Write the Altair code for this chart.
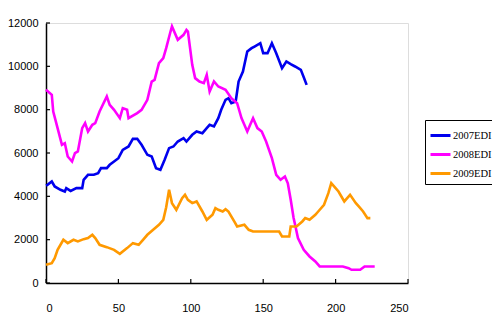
import altair as alt
import pandas as pd

# 2007 EDI
x2007 = [0, 1, 4, 6, 10, 13, 14, 17, 21, 25,
         26, 29, 33, 36, 38, 42, 44, 47, 50, 53,
         57, 60, 63, 66, 70, 73, 76, 79, 82, 85,
         88, 91, 95, 97, 101, 104, 108, 111, 113, 116,
         119, 121, 124, 126, 128, 131, 133, 136, 139, 142,
         144, 148, 150, 153, 156, 159, 163, 166, 169, 172,
         176, 178, 180]
y2007 = [4500, 4530, 4685, 4455, 4300, 4224, 4378, 4250, 4378, 4378,
         4762, 4993, 4993, 5070, 5300, 5300, 5455, 5608, 5762, 6147,
         6300, 6654, 6654, 6377, 5916, 5838, 5300, 5224, 5700, 6224,
         6300, 6530, 6686, 6530, 6839, 6991, 6915, 7148, 7302, 7225,
         7609, 7993, 8454, 8531, 8300, 8377, 9300, 9762, 10683, 10837,
         10914, 11070, 10608, 10608, 11070, 10608, 9916, 10224, 10100, 9993,
         9838, 9500, 9146]

# 2008 EDI
x2008 = [0, 4, 5, 8, 11, 13, 15, 18, 20, 22,
         25, 27, 29, 32, 34, 37, 42, 44, 47, 51,
         53, 56, 57, 63, 66, 70, 73, 75, 78, 81,
         83, 86, 87, 91, 95, 97, 98, 101, 103, 106,
         109, 111, 113, 116, 119, 124, 128, 132, 135, 139,
         141, 143, 146, 149, 152, 156, 159, 162, 165, 167,
         169, 171, 172, 174, 178, 182, 186, 189, 205, 209,
         211, 217, 220, 227]
y2008 = [8915, 8685, 7914, 7148, 6377, 6454, 5838, 5607, 5994, 6070,
         7148, 7378, 6991, 7302, 7378, 7914, 8607, 8223, 7993, 7609,
         8071, 7993, 7609, 7840, 7993, 8454, 9300, 9377, 10147, 10378,
         10840, 11606, 11840, 11223, 11455, 11684, 11610, 10069, 9455, 9300,
         9224, 9608, 8838, 9300, 9068, 8915, 8531, 8300, 7609, 6991,
         7302, 7609, 7148, 6991, 6530, 5762, 4993, 4762, 4916, 4600,
         3840, 3000, 2700, 2071, 1532, 1225, 993, 763, 763, 686,
         609, 609, 763, 763]

# 2009 EDI
x2009 = [0, 4, 6, 8, 12, 15, 19, 22, 26, 29,
         32, 34, 37, 42, 47, 51, 56, 60, 64, 67,
         70, 74, 78, 81, 83, 84, 85, 87, 90, 94, 96,
         98, 101, 104, 108, 111, 115, 117, 119, 122, 124,
         126, 130, 132, 137, 140, 143, 151, 161, 163, 168,
         169, 172, 173, 177, 179, 182, 186, 188, 192, 195,
         197, 200, 202, 206, 208, 210, 214, 216, 219, 222, 224]
y2009 = [840, 917, 1148, 1532, 1994, 1840, 1994, 1917, 2025, 2071,
         2225, 2071, 1763, 1655, 1532, 1347, 1610, 1840, 1763, 1994,
         2225, 2455, 2686, 2916, 3500, 3900, 4301, 3686, 3378, 3917, 4070,
         3840, 3686, 3763, 3300, 2916, 3148, 3455, 3378, 3300, 3409,
         3300, 2840, 2607, 2686, 2455, 2378, 2378, 2378, 2147, 2147,
         2607, 2607, 2607, 2840, 2993, 2916, 3148, 3300, 3609, 4147,
         4609, 4378, 4224, 3763, 3917, 4070, 3686, 3532, 3300, 2993, 2993]

series_names = ["2007EDI", "2008EDI", "2009EDI"]
series_colors = ["#0000ee", "#ff00ff", "#ff9900"]
x_ticks = [0, 50, 100, 150, 200, 250]
y_ticks = [0, 2000, 4000, 6000, 8000, 10000, 12000]

rows = []
for name, xs, ys in zip(series_names, [x2007, x2008, x2009], [y2007, y2008, y2009]):
    for i, (a, b) in enumerate(zip(xs, ys)):
        rows.append({"x": a, "y": b, "series": name, "order": i})
df = pd.DataFrame(rows)

W, H = 362, 260
xscale = alt.Scale(domain=[0, 250], nice=False, zero=False)
yscale = alt.Scale(domain=[0, 12000], nice=False)

lines = alt.Chart(df).mark_line(strokeWidth=2.6).encode(
    x=alt.X("x:Q", scale=xscale,
            axis=alt.Axis(values=x_ticks, format="d", title=None, grid=False, ticks=False,
                          labelPadding=19, labelFont="Liberation Sans", labelFontSize=11,
                          labelColor="#000000", domainColor="#000000", domainWidth=1.5)),
    y=alt.Y("y:Q", scale=yscale,
            axis=alt.Axis(values=y_ticks, format="d", title=None, grid=False, ticks=False,
                          labelPadding=8, labelFont="Liberation Sans", labelFontSize=11,
                          labelColor="#000000", domainColor="#000000", domainWidth=1.5)),
    color=alt.Color("series:N",
                    scale=alt.Scale(domain=series_names, range=series_colors),
                    legend=alt.Legend(title=None, orient="none", legendX=379, legendY=97,
                                      symbolType="stroke", symbolSize=400, symbolStrokeWidth=3,
                                      labelFont="Liberation Serif", labelFontSize=10.5,
                                      labelColor="#000000", rowPadding=1,
                                      padding=4, strokeColor="#000000", fillColor="#ffffff",
                                      labelOffset=1)),
    order="order:Q",
)

ytick_df = pd.DataFrame({"y": y_ticks})
xtick_df = pd.DataFrame({"x": x_ticks})

yticks = alt.Chart(ytick_df).mark_rule(color="#000000", strokeWidth=1.2).encode(
    y=alt.Y("y:Q", scale=yscale), x=alt.value(0), x2=alt.value(4))
xticks = alt.Chart(xtick_df).mark_rule(color="#000000", strokeWidth=1.2).encode(
    x=alt.X("x:Q", scale=xscale), y=alt.value(H), y2=alt.value(H - 4))

chart = alt.layer(lines, yticks, xticks).properties(
    width=W, height=H,
    padding={"left": 38, "top": 15, "right": 84, "bottom": 38},
    autosize=alt.AutoSizeParams(type="none"),
).configure_view(stroke=None).configure(background="#ffffff")

chart.save("out.html", embed_options={"renderer": "svg", "actions": False})
